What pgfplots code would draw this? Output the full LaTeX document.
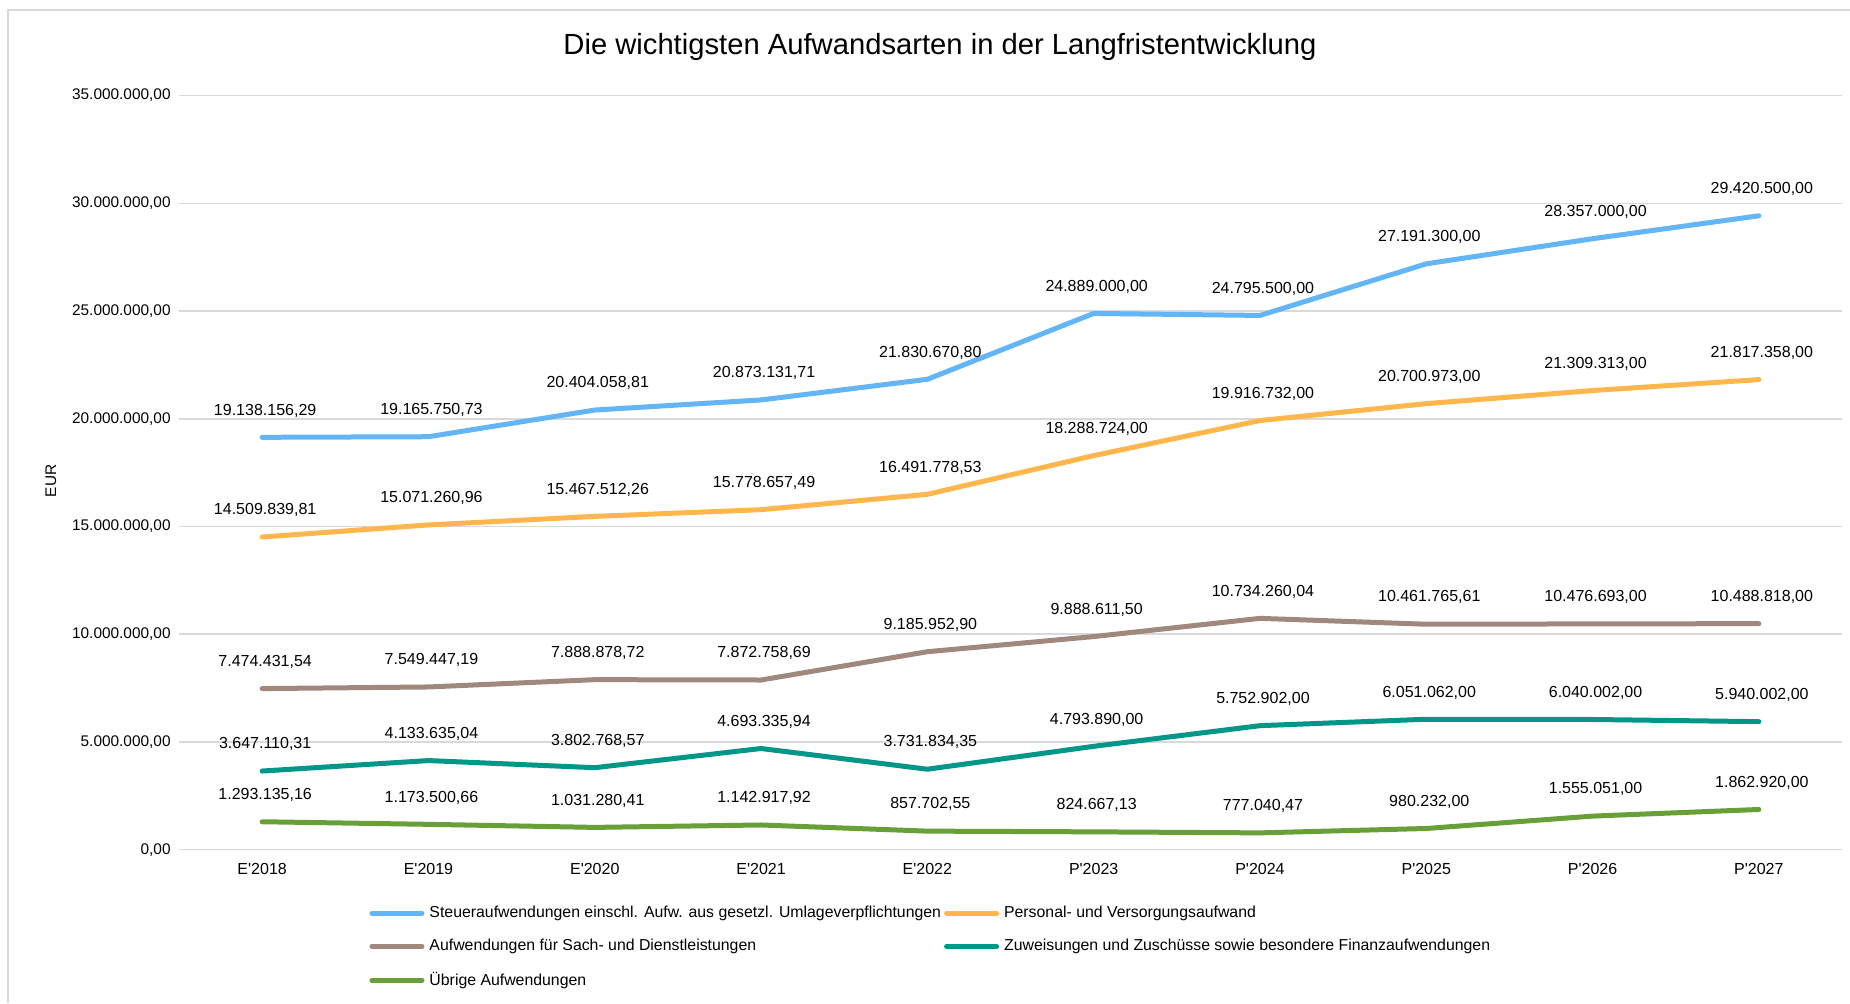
\documentclass[border=0pt]{standalone}
\usepackage{pgfplots}
\pgfplotsset{compat=1.18}
\usepackage{fontspec}
\setmainfont{Liberation Sans}

\definecolor{cSteuer}{RGB}{100,181,246}
\definecolor{cPersonal}{RGB}{255,183,77}
\definecolor{cSach}{RGB}{161,136,127}
\definecolor{cZuw}{RGB}{0,150,136}
\definecolor{cUebrig}{RGB}{104,159,56}
\definecolor{gridgray}{RGB}{217,217,217}

\begin{document}
\begin{tikzpicture}
\useasboundingbox (0,0) rectangle (925pt,501.5pt);
\fill[white] (0,0) rectangle (925pt,501.5pt);
\draw[gridgray, line width=0.8pt] (4pt,0) -- (4pt,496.5pt) -- (925pt,496.5pt);
\node[font=\fontsize{14.6}{17}\selectfont] at (470pt,478pt) {Die wichtigsten Aufwandsarten in der Langfristentwicklung};
\node[rotate=90, font=\fontsize{7.7}{10}\selectfont] at (25.5pt,261pt) {EUR};
\begin{axis}[
  at={(89.5pt,76.7pt)}, anchor=south west,
  scale only axis, width=831.5pt, height=377pt,
  xmin=-0.5, xmax=9.5, ymin=0, ymax=35000000,
  xtick={0,1,2,3,4,5,6,7,8,9},
  xticklabels={E\textquotesingle 2018,E\textquotesingle 2019,E\textquotesingle 2020,E\textquotesingle 2021,E\textquotesingle 2022,P\textquotesingle 2023,P\textquotesingle 2024,P\textquotesingle 2025,P\textquotesingle 2026,P\textquotesingle 2027},
  ytick={0,5000000,10000000,15000000,20000000,25000000,30000000,35000000},
  yticklabels={{0,00},{5.000.000,00},{10.000.000,00},{15.000.000,00},{20.000.000,00},{25.000.000,00},{30.000.000,00},{35.000.000,00}},
  scaled y ticks=false,
  ymajorgrids, grid style={color=gridgray, line width=0.75pt},
  axis line style={draw=none}, major tick length=0pt,
  tick label style={font=\fontsize{7.7}{10}\selectfont, text=black},
  yticklabel style={inner sep=0pt, anchor=east, xshift=-4pt},
  xticklabel style={font=\fontsize{8}{10}\selectfont, inner sep=0pt, anchor=center, yshift=-9.6pt},
  clip=false,
  nodes near coords,
  point meta=explicit symbolic,
  every node near coord/.append style={font=\fontsize{8}{10}\selectfont, text=black, anchor=center, inner sep=0pt, yshift=13.4pt, xshift=1.5pt},
  every axis plot/.append style={line width=2.5pt, line join=round, line cap=round, mark=none},
  legend columns=2,
  legend cell align=left,
  legend image code/.code={\draw[#1, line width=2.5pt, line cap=round] (0pt,0pt) -- (25pt,0pt);},
  legend style={draw=none, fill=none, at={(0.1143,-0.073)}, anchor=north west,
    font=\fontsize{7.92}{10}\selectfont, inner sep=0pt, row sep=8.3pt, column sep=2pt,
    nodes={inner sep=0.5pt},
    /tikz/every even column/.append style={column sep=1pt}},
]
\addplot[cSteuer] coordinates {
(0,19138156.29) [19.138.156,29]
(1,19165750.73) [19.165.750,73]
(2,20404058.81) [20.404.058,81]
(3,20873131.71) [20.873.131,71]
(4,21830670.80) [21.830.670,80]
(5,24889000.00) [24.889.000,00]
(6,24795500.00) [24.795.500,00]
(7,27191300.00) [27.191.300,00]
(8,28357000.00) [28.357.000,00]
(9,29420500.00) [29.420.500,00]
};
\addlegendentry{Steueraufwendungen einschl. Aufw. aus gesetzl. Umlageverpflichtungen}
\addplot[cPersonal] coordinates {
(0,14509839.81) [14.509.839,81]
(1,15071260.96) [15.071.260,96]
(2,15467512.26) [15.467.512,26]
(3,15778657.49) [15.778.657,49]
(4,16491778.53) [16.491.778,53]
(5,18288724.00) [18.288.724,00]
(6,19916732.00) [19.916.732,00]
(7,20700973.00) [20.700.973,00]
(8,21309313.00) [21.309.313,00]
(9,21817358.00) [21.817.358,00]
};
\addlegendentry{Personal- und Versorgungsaufwand}
\addplot[cSach] coordinates {
(0,7474431.54) [7.474.431,54]
(1,7549447.19) [7.549.447,19]
(2,7888878.72) [7.888.878,72]
(3,7872758.69) [7.872.758,69]
(4,9185952.90) [9.185.952,90]
(5,9888611.50) [9.888.611,50]
(6,10734260.04) [10.734.260,04]
(7,10461765.61) [10.461.765,61]
(8,10476693.00) [10.476.693,00]
(9,10488818.00) [10.488.818,00]
};
\addlegendentry{Aufwendungen für Sach- und Dienstleistungen}
\addplot[cZuw] coordinates {
(0,3647110.31) [3.647.110,31]
(1,4133635.04) [4.133.635,04]
(2,3802768.57) [3.802.768,57]
(3,4693335.94) [4.693.335,94]
(4,3731834.35) [3.731.834,35]
(5,4793890.00) [4.793.890,00]
(6,5752902.00) [5.752.902,00]
(7,6051062.00) [6.051.062,00]
(8,6040002.00) [6.040.002,00]
(9,5940002.00) [5.940.002,00]
};
\addlegendentry{Zuweisungen und Zuschüsse sowie besondere Finanzaufwendungen}
\addplot[cUebrig] coordinates {
(0,1293135.16) [1.293.135,16]
(1,1173500.66) [1.173.500,66]
(2,1031280.41) [1.031.280,41]
(3,1142917.92) [1.142.917,92]
(4,857702.55) [857.702,55]
(5,824667.13) [824.667,13]
(6,777040.47) [777.040,47]
(7,980232.00) [980.232,00]
(8,1555051.00) [1.555.051,00]
(9,1862920.00) [1.862.920,00]
};
\addlegendentry{Übrige Aufwendungen}
\end{axis}
\end{tikzpicture}
\end{document}
